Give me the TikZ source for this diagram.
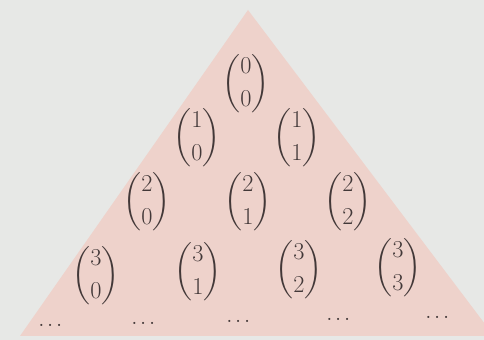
\documentclass[tikz,border=0pt]{standalone}
\usepackage{amsmath}
\definecolor{paper}{RGB}{231,232,230}
\definecolor{rose}{RGB}{238,210,203}
\definecolor{ink}{RGB}{66,56,56}

\begin{document}
\begin{tikzpicture}[coef/.style={inner sep=0pt,text=ink,font=\LARGE},
  dotsrow/.style={inner sep=0pt,text=ink,font=\Large}]
% frame (484 x 340 px at 0.025cm per px)
\clip (0,0) rectangle (12.1,8.5);
\fill[paper] (0,0) rectangle (12.1,8.5);
% the triangle
\fill[rose] (0.5,0.1) -- (6.2,8.25) -- (12.35,0.1) -- cycle;
% row 0
\node[coef] (b00) at (6.15,6.4) {$\dbinom{0}{0}$};
% row 1
\node[coef] (b10) at (4.925,5.05) {$\dbinom{1}{0}$};
\node[coef] (b11) at (7.425,5.05) {$\dbinom{1}{1}$};
% row 2
\node[coef] (b20) at (3.675,3.45) {$\dbinom{2}{0}$};
\node[coef] (b21) at (6.2,3.45) {$\dbinom{2}{1}$};
\node[coef] (b22) at (8.7,3.45) {$\dbinom{2}{2}$};
% row 3
\node[coef] (b30) at (2.4,1.6) {$\dbinom{3}{0}$};
\node[coef] (b31) at (4.95,1.7) {$\dbinom{3}{1}$};
\node[coef] (b32) at (7.475,1.75) {$\dbinom{3}{2}$};
\node[coef] (b33) at (9.95,1.8) {$\dbinom{3}{3}$};
% next row, left open
\node[dotsrow] (d0) at (1.3,0.35) {$\cdots$};
\node[dotsrow] (d1) at (3.625,0.4) {$\cdots$};
\node[dotsrow] (d2) at (6.0,0.45) {$\cdots$};
\node[dotsrow] (d3) at (8.5,0.5) {$\cdots$};
\node[dotsrow] (d4) at (10.975,0.55) {$\cdots$};
\end{tikzpicture}
\end{document}
